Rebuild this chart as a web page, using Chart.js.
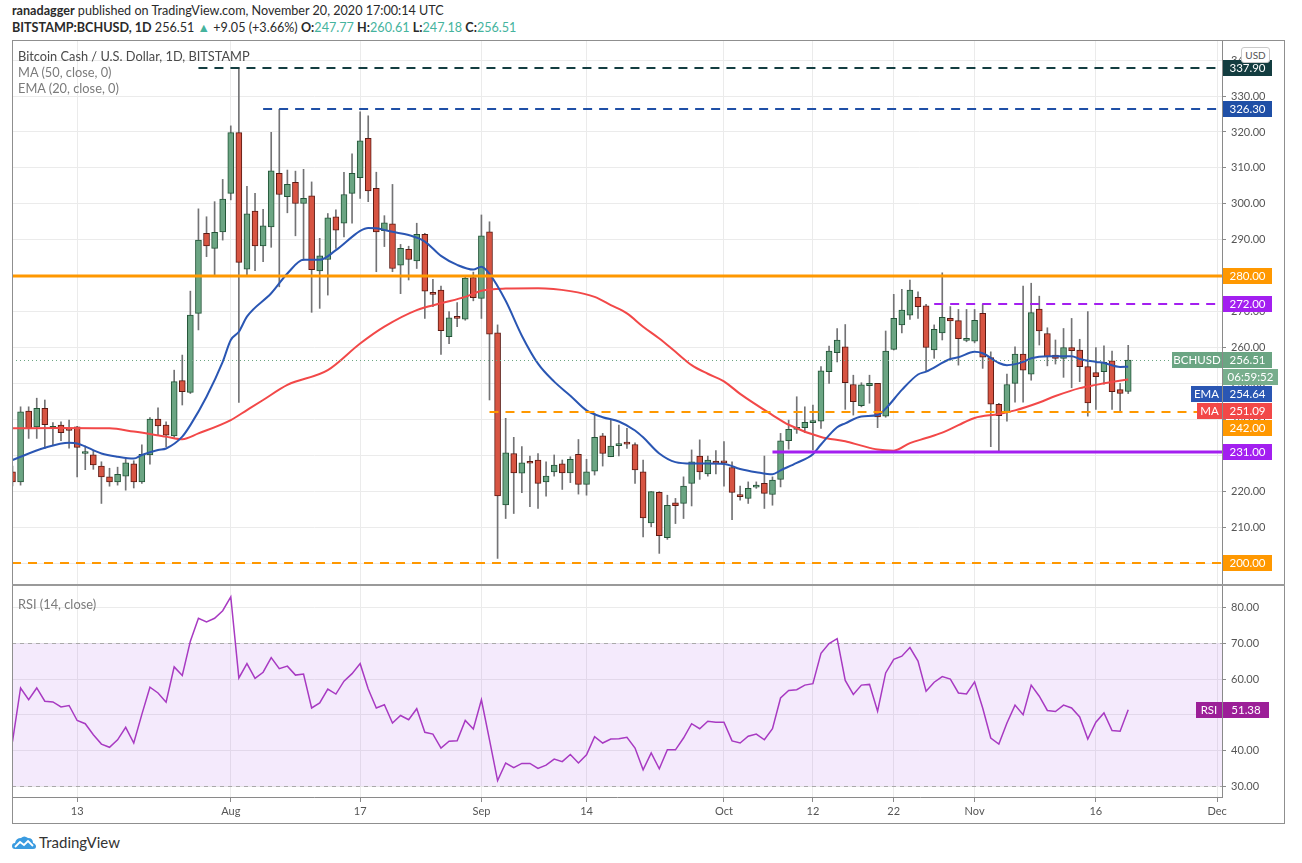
<!DOCTYPE html>
<html><head><meta charset="utf-8">
<script src="https://cdn.jsdelivr.net/npm/chart.js@4.4.0/dist/chart.umd.min.js"></script>
<style>
body{margin:0;width:1302px;height:863px;background:#fff;font-family:Lato,"Open Sans",sans-serif;overflow:hidden;position:relative;color:#131722}
.abs{position:absolute;white-space:nowrap}
#frame{left:12px;top:40px;width:1273px;height:784px;border:1px solid #8f8f8f;box-sizing:border-box}
#sep{left:12px;top:584px;width:1273px;height:2px;background:#9a9a9a}
#h1{left:12px;top:3px;font-size:12.6px;color:#2a2a2a}
#h2{left:12px;top:20px;font-size:12.6px;color:#2a2a2a}
.g{color:#45b39d}
.t1{left:18px;top:48px;font-size:12.8px;color:#4a4a4a}
.t2{left:18px;font-size:12.8px;color:#7b7b7b}
#usd{left:1241px;top:47px;width:27px;height:14px;border:1px solid #c9c9c9;border-radius:3px;background:#fff;font-size:10px;color:#555;text-align:center;line-height:14px}
#foot{left:12px;top:833px;font-size:15px;color:#333;display:flex;align-items:center;gap:3px}
canvas{position:absolute}
</style></head>
<body>
<div class="abs" id="h1"><b>ranadagger</b> published on TradingView.com, November 20, 2020 17:00:14 UTC</div>
<div class="abs" id="h2"><b>BITSTAMP:BCHUSD, 1D</b> 256.51 <span class="g">▲</span> +9.05 (+3.66%) <b>O:</b><span class="g">247.77</span> <b>H:</b><span class="g">260.61</span> <b>L:</b><span class="g">247.18</span> <b>C:</b><span class="g">256.51</span></div>
<canvas id="cA" width="1273" height="545" style="left:12px;top:40px"></canvas>
<canvas id="cB" width="1273" height="239" style="left:12px;top:585px"></canvas>
<div class="abs" id="frame"></div>
<div class="abs" id="sep"></div>
<div class="abs t1">Bitcoin Cash / U.S. Dollar, 1D, BITSTAMP</div>
<div class="abs t2" style="top:64px">MA (50, close, 0)</div>
<div class="abs t2" style="top:80px">EMA (20, close, 0)</div>
<div class="abs t2" style="top:596px">RSI (14, close)</div>
<div class="abs" id="usd">USD</div>
<div class="abs" id="foot"><svg width="24" height="15" viewBox="0 0 24 15"><path d="M3 14 Q0 14 0 11 Q0 8 3 8 Q4 3 9 3 Q12 0 16 3 Q21 3 21 8 Q24 9 24 11.5 Q24 14 21 14 Z" fill="#3a9be0"/><path d="M3 12 L8 7 L12 10 L16 6 L21 11" stroke="#fff" stroke-width="1.8" fill="none"/></svg><span>TradingView</span></div>
<script>
// ---- data ----
const opens = [225.4,222.6,242.3,237.9,243.1,237.5,238.4,237.1,237.9,230.5,
230.1,227.0,224.0,222.6,224.2,227.6,222.6,230.1,240.1,238.4,
235.4,250.8,247.5,269.5,291.8,287.6,292.2,302.9,319.8,281.8,
298.0,288.3,293.6,308.5,302.0,306.0,300.1,302.2,281.3,284.5,
296.4,294.6,302.9,307.3,318.2,304.3,292.5,294.4,282.9,287.3,
284.1,291.5,275.3,276.0,263.0,268.6,267.9,279.5,273.7,292.2,
264.1,216.2,230.5,225.0,228.2,228.7,222.6,225.4,227.6,225.1,
230.3,221.9,225.6,235.4,229.6,232.7,233.6,233.0,225.4,211.2,
219.7,207.1,216.8,216.6,222.2,229.8,224.8,228.4,228.4,226.6,
219.0,218.0,221.1,222.2,219.1,223.3,234.1,237.2,237.7,239.1,
239.5,253.3,258.6,260.2,249.7,243.8,249.4,250.0,240.9,259.5,
266.3,269.0,274.0,271.6,259.3,264.1,268.1,267.5,262.0,261.8,
269.5,257.2,244.2,242.1,250.0,258.2,252.6,270.7,263.9,257.9,
257.0,260.0,259.3,254.7,253.0,253.3,256.3,248.3,247.77];
const highs = [227.0,243.5,243.5,245.9,245.4,239.1,239.3,239.8,238.1,232.6,
231.4,228.2,226.4,226.7,228.9,228.5,232.9,240.5,243.2,239.3,
253.7,257.9,275.7,298.6,296.4,300.6,306.8,321.7,337.9,304.9,
302.9,298.5,319.9,326.3,309.4,309.1,309.6,306.1,290.4,297.3,
298.3,308.8,313.9,325.6,324.5,308.8,296.7,305.4,288.7,288.2,
294.6,291.8,279.0,277.1,270.0,272.5,279.6,281.0,296.9,295.0,
266.3,240.3,235.0,232.4,229.8,230.5,228.2,230.1,228.7,229.6,
234.4,228.9,241.7,236.1,239.8,238.4,237.5,233.5,228.7,219.9,
219.9,218.9,218.0,224.0,231.5,234.3,229.8,231.3,233.8,228.2,
221.4,222.6,222.6,229.8,224.0,236.1,239.8,246.3,243.5,244.0,
254.7,260.4,265.3,266.4,252.3,250.2,252.3,250.0,264.6,274.8,
276.2,278.8,275.5,272.0,266.3,280.8,271.4,270.6,270.6,270.6,
272.0,258.8,244.5,252.6,260.2,277.1,277.9,274.3,265.5,262.1,
265.3,268.1,262.3,270.0,260.0,260.5,259.0,250.0,260.61];
const lows = [221.5,221.7,234.7,234.7,231.9,232.9,234.1,232.0,224.0,226.0,
226.1,216.6,221.4,221.7,220.3,220.9,222.2,227.5,235.6,232.4,
235.0,244.0,247.2,264.9,285.3,280.2,289.9,301.1,244.7,279.7,
281.4,283.9,287.9,276.9,297.5,291.1,284.3,269.8,270.9,274.6,
287.6,290.8,294.6,301.5,300.6,281.1,288.1,281.1,275.0,278.8,
282.0,268.1,271.4,258.1,261.1,265.8,267.6,273.0,268.1,245.4,
201.3,212.4,213.8,219.6,215.7,215.2,218.6,224.2,220.5,222.4,
219.2,218.9,224.5,227.0,229.6,229.8,231.9,222.2,207.3,210.1,
202.7,206.6,211.0,212.4,215.9,223.3,224.2,224.8,221.4,212.1,
217.5,216.6,220.8,215.2,216.1,221.2,231.7,236.1,236.3,231.5,
237.5,250.0,256.0,242.8,241.2,243.5,244.5,237.7,240.6,259.3,
264.1,267.8,268.1,253.3,257.0,262.1,256.5,255.1,261.6,261.3,
254.2,232.4,230.7,239.5,244.8,244.8,250.9,260.7,254.9,255.4,
251.7,248.8,250.5,240.9,242.8,249.8,242.8,242.4,247.18];
const closes = [222.6,242.1,237.5,243.1,238.5,238.1,236.3,236.9,232.2,230.9,
227.3,224.0,222.6,224.7,227.9,222.6,230.3,240.1,238.2,235.6,
250.5,247.7,269.0,289.9,288.3,292.1,301.3,319.8,283.7,297.2,
288.3,293.9,309.2,302.6,305.4,300.1,301.5,281.7,285.5,296.1,
292.7,302.6,308.5,317.5,303.6,292.2,294.7,282.0,287.6,284.5,
291.5,275.7,274.8,264.7,268.3,268.1,279.3,273.9,291.1,263.7,
218.7,230.7,225.1,227.9,227.8,222.2,224.2,227.3,225.1,228.9,
221.9,225.4,235.0,230.5,232.6,232.9,233.1,225.9,212.6,219.9,
207.6,216.1,216.0,221.4,228.2,225.4,228.7,227.8,227.9,219.7,
218.5,220.8,221.7,219.4,223.1,234.0,237.2,237.5,239.2,239.7,
253.5,259.0,262.1,250.2,244.9,249.6,250.0,240.7,259.0,268.1,
270.4,276.0,271.4,260.0,265.1,268.4,267.4,262.5,262.2,267.6,
257.3,244.2,241.0,249.7,258.2,253.7,269.7,264.6,257.4,257.0,
260.0,259.1,254.7,244.6,251.9,255.9,247.7,247.2,256.51];

const emaDays = [0,4,7,8,11,13,15,16,18,19,21,22,24,26,27,28,29,32,34,36,38,40,42,43,44,45,47,49,51,53,55,57,58,59,61,63,65,67,69,71,73,75,77,78,80,82,84,86,88,90,92,94,95,97,99,100,102,103,105,107,108,110,112,113,116,117,119,120,122,123,125,126,128,131,132,134,135,137,138];
const emaVals = [228.7,232.1,233.5,233.3,230.5,229.6,229.1,230.1,231.5,231.9,235.2,238.4,246.3,256.0,262.1,264.4,268.6,275.1,280.6,284.4,284.4,287.1,290.8,292.5,293.3,293.2,292.2,291.3,289.5,285.5,283.0,281.7,282.5,280.5,273.0,263.3,255.5,250.5,246.6,242.5,240.6,239.4,236.9,235.0,230.5,228.1,227.7,227.7,227.6,226.2,225.3,224.7,225.8,227.9,230.3,233.0,237.8,238.9,240.8,241.2,243.0,248.2,252.5,253.3,256.8,257.3,258.8,258.4,255.7,255.1,256.0,257.0,257.6,257.6,256.8,256.0,255.7,254.6,254.64];
const maDays = [0,6,12,15,19,21,23,27,29,31,34,39,43,46,50,53,56,58,61,65,69,72,74,76,78,80,82,84,86,88,90,94,96,100,103,105,107,109,111,113,115,117,119,122,124,127,129,132,134,136,138];
const maVals = [237.5,237.6,237.5,236.6,235.2,234.5,236.1,239.8,242.6,245.4,249.6,253.7,261.1,265.8,270.4,272.3,274.1,275.8,276.4,276.5,275.7,274.1,271.8,269.5,265.8,262.5,258.8,255.1,252.7,250.6,247.1,241.2,238.5,235.1,233.9,232.7,231.6,231.3,233.4,234.8,236.3,238.4,240.4,241.5,242.5,244.7,246.5,248.7,249.6,250.4,251.09];

const rsiVals = [42.5,57.5,54.2,57.5,53.8,53.6,52.2,52.6,48.4,47.5,
44.4,41.8,40.9,43.0,46.5,42.1,50.1,57.7,56.1,53.5,
63.4,61.0,70.6,77.0,76.0,77.0,79.1,83.0,60.3,64.3,
60.2,61.9,66.0,62.9,63.6,61.1,61.4,51.9,53.3,57.2,
55.8,59.4,61.5,64.3,57.2,51.9,52.8,47.7,49.8,48.6,
51.7,45.1,44.6,40.7,42.6,42.7,48.4,46.0,54.2,43.0,
31.6,36.5,35.2,36.4,36.4,35.0,35.9,37.6,36.9,38.9,
36.5,38.8,43.9,42.1,43.2,43.3,43.7,40.7,34.6,39.3,
34.9,40.2,40.2,43.5,47.5,46.1,48.2,47.9,47.9,42.7,
42.1,44.0,44.6,43.0,46.1,54.7,56.8,57.0,58.3,58.7,
67.2,69.9,71.3,59.6,55.7,58.3,58.5,51.0,61.7,65.5,
66.4,68.8,65.0,56.6,59.1,60.7,60.0,56.1,55.8,59.2,
51.9,43.5,41.8,47.7,52.7,50.0,58.3,55.2,51.2,50.9,
52.7,51.9,49.4,43.2,47.9,50.5,45.6,45.4,51.38];

// horizontal levels drawn on the chart
const levelValues = [337.90, 326.30, 280.00, 272.00, 242.00, 231.00, 200.00];
const levelFromDay = [23, 31, 0, 114, 59, 94, 0];
const levelColors = ['#133d40','#1f4fa6','#ff9800','#a31ff0','#ff9800','#a31ff0','#ff9800'];
const levelDashed = [true, true, false, true, true, false, true];

// x tick labels (day index -> label)
const tickDays = [8,27,43,58,71,88,99,109,119,134,149];
const tickLabels = ['13','Aug','17','Sep','14','Oct','12','22','Nov','16','Dec'];
const countdown = '06:59:52';

// ---- styles ----
const UP='#6ba583', DOWN='#d75442', UPB='#225437', DOWNB='#5b1a13', WICK='#737375';
const EMA_C='#2a56b3', MA_C='#f24848', RSI_C='#a83ac2', RSI_TAG='#9c1f98';
const GRID='#ebebeb', AX='#8a8a8a', TXT='#555';
const XMIN=-0.06, XMAX=149.6;
Chart.defaults.font.family='Lato, "Open Sans", sans-serif';
Chart.defaults.font.size=11;

const N = closes.length;
const days = Array.from({length:N},(_,i)=>i);

function drawTag(ctx,x,y,w,h,bg,text){
  ctx.fillStyle=bg; ctx.fillRect(Math.round(x),Math.round(y-h/2),w,h);
  ctx.fillStyle='#fff'; ctx.font='11.5px Lato, "Open Sans", sans-serif';
  ctx.textBaseline='middle'; ctx.textAlign='center';
  ctx.fillText(text, Math.round(x)+w/2, Math.round(y)+0.5);
}
function xTicks(s){ s.ticks = tickDays.map(v=>({value:v})); }
function fitY(s){ s.width=63; s.paddingTop=0; s.paddingBottom=0; }

const mainPlugin = {
  id:'mainDeco',
  afterDatasetsDraw(chart){
    const {ctx, chartArea:a, scales:{x,y}} = chart;
    ctx.save();
    ctx.beginPath(); ctx.rect(a.left,a.top,a.right-a.left,a.bottom-a.top); ctx.clip();
    const last = closes[N-1];
    ctx.strokeStyle=UP; ctx.lineWidth=1; ctx.setLineDash([1,3]);
    let py = Math.round(y.getPixelForValue(last))+0.5;
    ctx.beginPath(); ctx.moveTo(a.left,py); ctx.lineTo(a.right,py); ctx.stroke();
    levelValues.forEach((v,k)=>{
      const yy = Math.round(y.getPixelForValue(v));
      const xx = levelFromDay[k] <= 0 ? a.left : x.getPixelForValue(levelFromDay[k]);
      ctx.strokeStyle=levelColors[k];
      ctx.lineWidth = levelDashed[k] ? 2 : 3;
      ctx.setLineDash(levelDashed[k] ? [9,7] : []);
      ctx.beginPath(); ctx.moveTo(xx,yy); ctx.lineTo(a.right,yy); ctx.stroke();
    });
    ctx.restore();
  },
  afterDraw(chart){
    const {ctx, chartArea:a, scales:{y}} = chart;
    const tags = levelValues.map((v,k)=>({v, bg:levelColors[k]}));
    tags.push({v:closes[N-1], bg:UP, name:'BCHUSD', extra:countdown});
    tags.push({v:emaVals[emaVals.length-1], bg:EMA_C, name:'EMA', nw:31});
    tags.push({v:maVals[maVals.length-1], bg:MA_C, name:'MA', nw:25});
    tags.forEach(t=>t.py=y.getPixelForValue(t.v));
    tags.sort((p,q)=>p.py-q.py);
    const H=16; let bottom=-1e9;
    ctx.save();
    tags.forEach(t=>{
      let cy = Math.max(t.py, bottom + H/2 + 1);
      drawTag(ctx, a.right+1, cy, 49, H, t.bg, t.v.toFixed(2));
      if(t.name){ const nw=t.nw||50; drawTag(ctx, a.right-nw, cy, nw, H, t.bg, t.name); }
      bottom = cy + H/2;
      if(t.extra){ const ey = bottom + 1 + H/2; drawTag(ctx, a.right+1, ey, 55, H, '#78ae8d', t.extra); bottom = ey + H/2; }
    });
    ctx.restore();
  }
};

new Chart(document.getElementById('cA'), {
  type:'bar',
  data:{datasets:[
    {label:'wick', data:days.map(i=>({x:i,y:[lows[i],highs[i]]})), backgroundColor:WICK, barThickness:1, grouped:false, order:3},
    {label:'body', data:days.map(i=>({x:i,y:[opens[i],closes[i]]})),
      backgroundColor:c=>closes[c.dataIndex]>=opens[c.dataIndex]?UP:DOWN,
      borderColor:c=>closes[c.dataIndex]>=opens[c.dataIndex]?UPB:DOWNB,
      borderWidth:1, borderSkipped:false, barThickness:6, grouped:false, minBarLength:2, order:2},
    {type:'line', label:'MA', data:maDays.map((d,k)=>({x:d,y:maVals[k]})), borderColor:MA_C, borderWidth:2, pointRadius:0, cubicInterpolationMode:'monotone', order:1},
    {type:'line', label:'EMA', data:emaDays.map((d,k)=>({x:d,y:emaVals[k]})), borderColor:EMA_C, borderWidth:2, pointRadius:0, cubicInterpolationMode:'monotone', order:0}
  ]},
  options:{
    responsive:false, animation:false, events:[],
    layout:{padding:0, autoPadding:false},
    plugins:{legend:{display:false}, tooltip:{enabled:false}},
    scales:{
      x:{type:'linear', min:XMIN, max:XMAX, offset:false, afterBuildTicks:xTicks,
         ticks:{display:false}, grid:{color:GRID, drawTicks:false, offset:false}, border:{display:false},
         afterFit:s=>{s.height=0; s.paddingLeft=0; s.paddingRight=0;}},
      y:{position:'right', min:193.9, max:345.6, afterFit:fitY,
         ticks:{stepSize:10, includeBounds:false, callback:v=>Number(v).toFixed(2), color:TXT, padding:5},
         grid:{color:GRID, tickLength:4, tickColor:AX}, border:{color:AX}}
    }
  },
  plugins:[mainPlugin]
});

const rsiPlugin = {
  id:'rsiDeco',
  beforeDatasetsDraw(chart){
    const {ctx, chartArea:a, scales:{y}} = chart;
    const y70=y.getPixelForValue(70), y30=y.getPixelForValue(30);
    ctx.save();
    ctx.fillStyle='rgba(150,50,225,0.1)';
    ctx.fillRect(a.left,y70,a.right-a.left,y30-y70);
    ctx.strokeStyle='#a9a9a9'; ctx.lineWidth=1; ctx.setLineDash([4,4]);
    [y70,y30].forEach(v=>{ const yy=Math.round(v)+0.5; ctx.beginPath(); ctx.moveTo(a.left,yy); ctx.lineTo(a.right,yy); ctx.stroke(); });
    ctx.restore();
  },
  afterDraw(chart){
    const {ctx, chartArea:a, scales:{y}} = chart;
    const v = rsiVals[N-1], cy = y.getPixelForValue(v);
    ctx.save();
    drawTag(ctx, a.right+1, cy, 46, 16, RSI_TAG, v.toFixed(2));
    drawTag(ctx, a.right-26, cy, 26, 16, RSI_TAG, 'RSI');
    ctx.restore();
  }
};

new Chart(document.getElementById('cB'), {
  type:'line',
  data:{datasets:[{label:'RSI', data:days.map(i=>({x:i,y:rsiVals[i]})), borderColor:RSI_C, borderWidth:1.5, pointRadius:0, tension:0}]},
  options:{
    responsive:false, animation:false, events:[],
    layout:{padding:0, autoPadding:false},
    plugins:{legend:{display:false}, tooltip:{enabled:false}},
    scales:{
      x:{type:'linear', min:XMIN, max:XMAX, offset:false, afterBuildTicks:xTicks,
         ticks:{autoSkip:false, maxRotation:0, color:TXT, padding:3, callback:(v,i)=>tickLabels[i]},
         grid:{color:GRID, tickLength:5, tickColor:AX}, border:{color:AX},
         afterFit:s=>{s.height=27; s.paddingLeft=0; s.paddingRight=0;}},
      y:{position:'right', min:27.0, max:86.3, afterFit:fitY,
         ticks:{stepSize:10, includeBounds:false, callback:v=>Number(v).toFixed(2), color:TXT, padding:5},
         grid:{color:GRID, tickLength:4, tickColor:AX}, border:{color:AX}}
    }
  },
  plugins:[rsiPlugin]
});
</script>
</body></html>
